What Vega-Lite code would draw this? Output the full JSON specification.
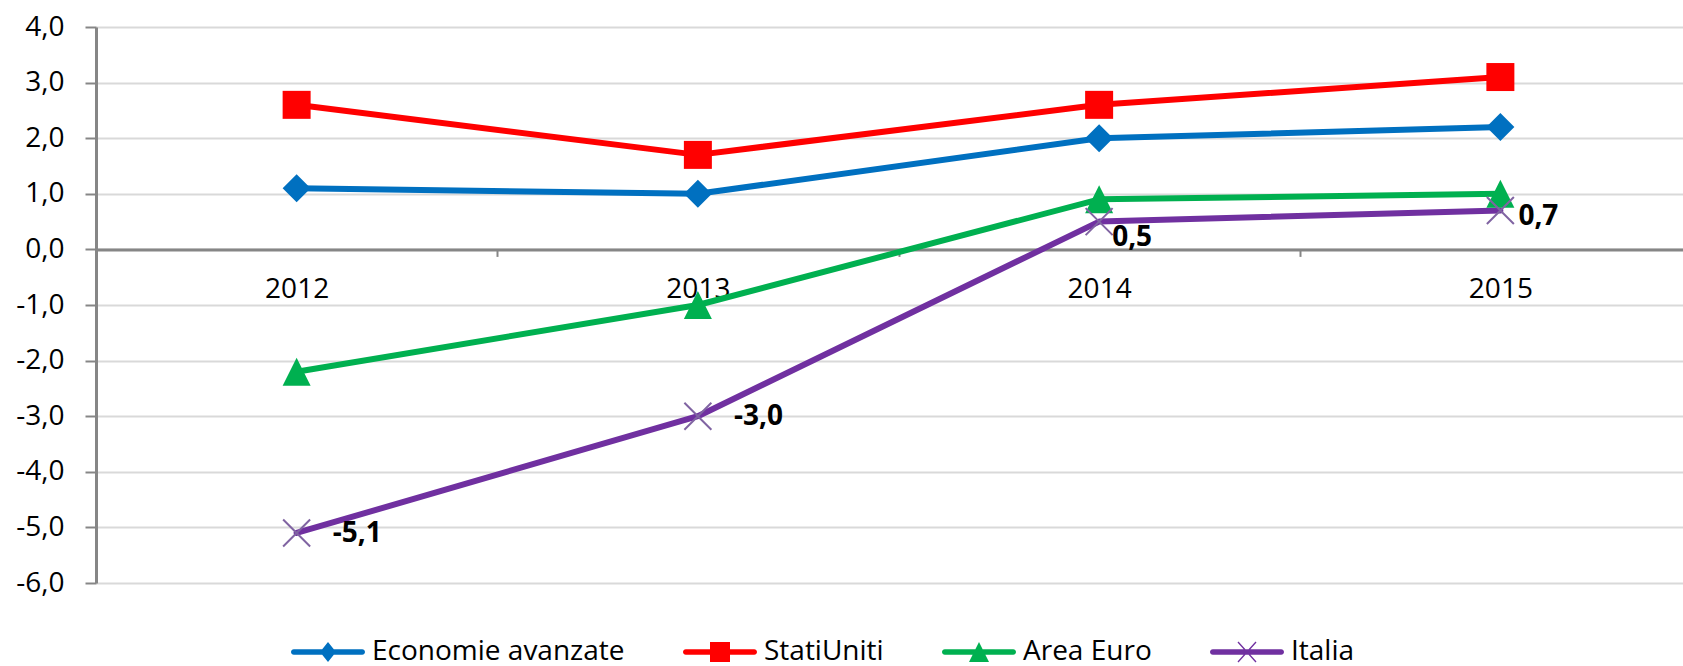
{
  "$schema": "https://vega.github.io/schema/vega-lite/v6.json",
  "autosize": {"type": "none"},
  "padding": {"left": 96, "top": 27, "right": 0, "bottom": 83},
  "width": 1587,
  "height": 556,
  "background": "white",
  "config": {
    "view": {"stroke": null},
    "locale": {"number": {"decimal": ",", "thousands": ".", "grouping": [3], "currency": ["", " €"], "minus": "-"}},
    "font": "Open Sans"
  },
  "data": {
    "values": [
      {"year": "2012", "series": "Economie avanzate", "value": 1.1},
      {"year": "2013", "series": "Economie avanzate", "value": 1.0},
      {"year": "2014", "series": "Economie avanzate", "value": 2.0},
      {"year": "2015", "series": "Economie avanzate", "value": 2.2},
      {"year": "2012", "series": "StatiUniti", "value": 2.6},
      {"year": "2013", "series": "StatiUniti", "value": 1.7},
      {"year": "2014", "series": "StatiUniti", "value": 2.6},
      {"year": "2015", "series": "StatiUniti", "value": 3.1},
      {"year": "2012", "series": "Area Euro", "value": -2.2},
      {"year": "2013", "series": "Area Euro", "value": -1.0},
      {"year": "2014", "series": "Area Euro", "value": 0.9},
      {"year": "2015", "series": "Area Euro", "value": 1.0},
      {"year": "2012", "series": "Italia", "value": -5.1},
      {"year": "2013", "series": "Italia", "value": -3.0},
      {"year": "2014", "series": "Italia", "value": 0.5},
      {"year": "2015", "series": "Italia", "value": 0.7}
    ]
  },
  "encoding": {
    "x": {
      "field": "year", "type": "ordinal",
      "scale": {"type": "band", "paddingInner": 0, "paddingOuter": 0, "range": [0, 1605]},
      "axis": {
        "title": null, "orient": "bottom", "offset": -333.6,
        "labelAngle": 0, "labelFont": "Open Sans", "labelFontSize": 28, "labelColor": "#000000",
        "labelPadding": 19, "tickBand": "extent", "tickSize": 7, "tickWidth": 2, "tickColor": "#868686",
        "domainColor": "#868686", "domainWidth": 3, "grid": false
      }
    },
    "y": {
      "field": "value", "type": "quantitative",
      "scale": {"domain": [-6, 4], "nice": false, "zero": false},
      "axis": {
        "title": null, "values": [-6, -5, -4, -3, -2, -1, 0, 1, 2, 3, 4], "format": ".1f",
        "labelFont": "Open Sans", "labelFontSize": 28, "labelColor": "#000000", "labelPadding": 21,
        "tickSize": 11, "tickWidth": 2, "tickColor": "#868686",
        "domainColor": "#868686", "domainWidth": 3,
        "grid": true, "gridColor": "#D9D9D9", "gridWidth": 2
      }
    }
  },
  "layer": [
    {
      "mark": {"type": "line", "strokeWidth": 6, "strokeCap": "round", "strokeJoin": "round"},
      "encoding": {
        "color": {
          "field": "series", "type": "nominal",
          "scale": {"domain": ["Economie avanzate", "StatiUniti", "Area Euro", "Italia"], "range": ["#0070C0", "#FF0000", "#00B050", "#7030A0"]},
          "legend": {
            "title": null, "orient": "none", "direction": "horizontal", "legendX": 191, "legendY": 611,
            "padding": 0, "columnPadding": 54, "labelOffset": 57, "labelLimit": 500,
            "labelFont": "Open Sans", "labelFontSize": 28, "labelColor": "#000000",
            "symbolSize": 400, "symbolOpacity": 1, "symbolStrokeWidth": 0,
            "encode": {
              "symbols": {
                "update": {
                  "shape": {"signal": "datum.value === 'Economie avanzate' ? 'M-0.72,-0.28L6.12,-0.28A0.28,0.28 0 0 1 6.12,0.28L-0.72,0.28A0.28,0.28 0 0 1 -0.72,-0.28ZM2.7,-1L3.5,0L2.7,1L1.9,0Z' : datum.value === 'StatiUniti' ? 'M-0.72,-0.28L6.12,-0.28A0.28,0.28 0 0 1 6.12,0.28L-0.72,0.28A0.28,0.28 0 0 1 -0.72,-0.28ZM1.7,-1L3.7,-1L3.7,1L1.7,1Z' : datum.value === 'Area Euro' ? 'M-0.72,-0.28L6.12,-0.28A0.28,0.28 0 0 1 6.12,0.28L-0.72,0.28A0.28,0.28 0 0 1 -0.72,-0.28ZM2.7,-1L3.7,1L1.7,1Z' : 'M-0.72,-0.28L6.12,-0.28A0.28,0.28 0 0 1 6.12,0.28L-0.72,0.28A0.28,0.28 0 0 1 -0.72,-0.28ZM1.85,-1.05L3.65,0.95L3.55,1.05L1.75,-0.95ZM3.55,-1.05L3.65,-0.95L1.85,1.05L1.75,0.95Z'"},
                  "fill": {"scale": "color", "field": "value"},
                  "stroke": {"value": "transparent"},
                  "strokeWidth": {"value": 0},
                  "size": {"value": 400},
                  "opacity": {"value": 1}
                }
              }
            }
          }
        }
      }
    },
    {
      "transform": [{"filter": {"field": "series", "oneOf": ["Economie avanzate", "StatiUniti", "Area Euro"]}}],
      "mark": {"type": "point", "filled": true, "opacity": 1, "size": 784},
      "encoding": {
        "color": {"field": "series", "type": "nominal", "legend": null},
        "shape": {
          "field": "series", "type": "nominal", "legend": null,
          "scale": {"domain": ["Economie avanzate", "StatiUniti", "Area Euro"], "range": ["diamond", "square", "M0,-1L1,1L-1,1Z"]}
        }
      }
    },
    {
      "transform": [{"filter": {"field": "series", "equal": "Italia"}}],
      "mark": {"type": "point", "filled": false, "opacity": 1, "size": 729, "shape": "M-1,-1L1,1M-1,1L1,-1", "stroke": "#8064A2", "strokeWidth": 2}
    },
    {
      "transform": [{"filter": {"and": [{"field": "series", "equal": "Italia"}, {"field": "year", "oneOf": ["2012", "2013"]}]}}],
      "mark": {"type": "text", "align": "left", "baseline": "middle", "dx": 36, "dy": 1, "font": "Open Sans", "fontSize": 28, "fontWeight": "bold", "color": "#000000"},
      "encoding": {"text": {"field": "value", "type": "quantitative", "format": ".1f"}}
    },
    {
      "transform": [{"filter": {"and": [{"field": "series", "equal": "Italia"}, {"field": "year", "equal": "2014"}]}}],
      "mark": {"type": "text", "align": "left", "baseline": "middle", "dx": 13, "dy": 16, "font": "Open Sans", "fontSize": 28, "fontWeight": "bold", "color": "#000000"},
      "encoding": {"text": {"field": "value", "type": "quantitative", "format": ".1f"}}
    },
    {
      "transform": [{"filter": {"and": [{"field": "series", "equal": "Italia"}, {"field": "year", "equal": "2015"}]}}],
      "mark": {"type": "text", "align": "left", "baseline": "middle", "dx": 18, "dy": 7, "font": "Open Sans", "fontSize": 28, "fontWeight": "bold", "color": "#000000"},
      "encoding": {"text": {"field": "value", "type": "quantitative", "format": ".1f"}}
    }
  ]
}
